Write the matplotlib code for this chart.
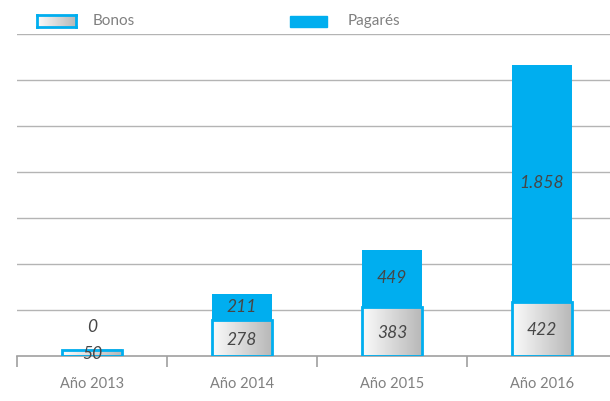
import matplotlib
matplotlib.use("Agg")
import matplotlib.pyplot as plt
import numpy as np
from matplotlib.patches import Rectangle

plt.rcParams['font.family'] = ['Lato', 'DejaVu Sans']

years = ['Año 2013', 'Año 2014', 'Año 2015', 'Año 2016']
bonos = [50, 278, 383, 422]
pagares = [0, 211, 449, 1858]
bonos_txt = ['50', '278', '383', '422']
pagares_txt = ['0', '211', '449', '1.858']

blue = '#00aeef'
grid_c = '#b4b4b4'
txt_c = '#808080'
num_c = '#464646'

fig = plt.figure(figsize=(6.10, 4.01), dpi=100)
ax = fig.add_axes([17/610, 45/401, 593/610, 322/401])

# gradient white -> grey for the Bonos bars
grad = np.linspace(0, 1, 64).reshape(1, -1)
gcmap = matplotlib.colors.LinearSegmentedColormap.from_list('g', ['#fbfbfb', '#b8b8b8'])

x = np.arange(len(years))
w = 0.4
for i in x:
    ax.imshow(grad, cmap=gcmap, aspect='auto',
              extent=[i - w/2, i + w/2, 0, bonos[i]], zorder=2)
    ax.add_patch(Rectangle((i - w/2, 0), w, bonos[i], fill=False,
                           edgecolor=blue, lw=2, zorder=3))
ax.bar(x, pagares, w, bottom=bonos, color=blue, zorder=2)

# value labels
for i in x:
    ax.text(i, bonos[i] / 2 - 10, bonos_txt[i], ha='center', va='center',
            fontsize=12.5, style='italic', color=num_c, zorder=4)
    if pagares[i] > 0:
        yp = bonos[i] + pagares[i] / 2
    else:
        yp = bonos[i] + 180
    ax.text(i, yp, pagares_txt[i], ha='center', va='center',
            fontsize=12.5, style='italic', color=num_c, zorder=4)

ax.set_xlim(-0.5, -0.5 + 593/150)
ax.set_ylim(0, 2520)
ax.set_yticks(np.arange(360, 2521, 360))
ax.yaxis.grid(True, color=grid_c, lw=1)
ax.set_axisbelow(True)
ax.tick_params(axis='y', length=0, labelleft=False)

for s in ['left', 'right', 'top']:
    ax.spines[s].set_visible(False)
ax.spines['bottom'].set_color('#a0a0a0')
ax.spines['bottom'].set_linewidth(1.2)

ax.set_xticks(np.arange(-0.5, 3, 1))
ax.set_xticklabels([])
ax.tick_params(axis='x', which='major', length=8, color='#a0a0a0', width=1.2)
ax.set_xticks(x, minor=True)
ax.set_xticklabels(years, minor=True, fontsize=10.5, color=txt_c)
ax.tick_params(axis='x', which='minor', length=0, pad=15)

# legend
lax = fig.add_axes([37/610, 1 - 27/401, 39/610, 12/401])
lax.imshow(grad, cmap=gcmap, aspect='auto')
lax.set_xticks([])
lax.set_yticks([])
for s in lax.spines.values():
    s.set_color(blue)
    s.set_linewidth(2)
fig.patches.append(Rectangle((290/610, 1 - 27/401), 37/610, 11/401,
                             transform=fig.transFigure, color=blue))
fig.text(93/610, 1 - 21/401, 'Bonos', fontsize=11, color=txt_c, va='center')
fig.text(348/610, 1 - 21/401, 'Pagarés', fontsize=11, color=txt_c, va='center')

fig.savefig('out.png', dpi=100)
